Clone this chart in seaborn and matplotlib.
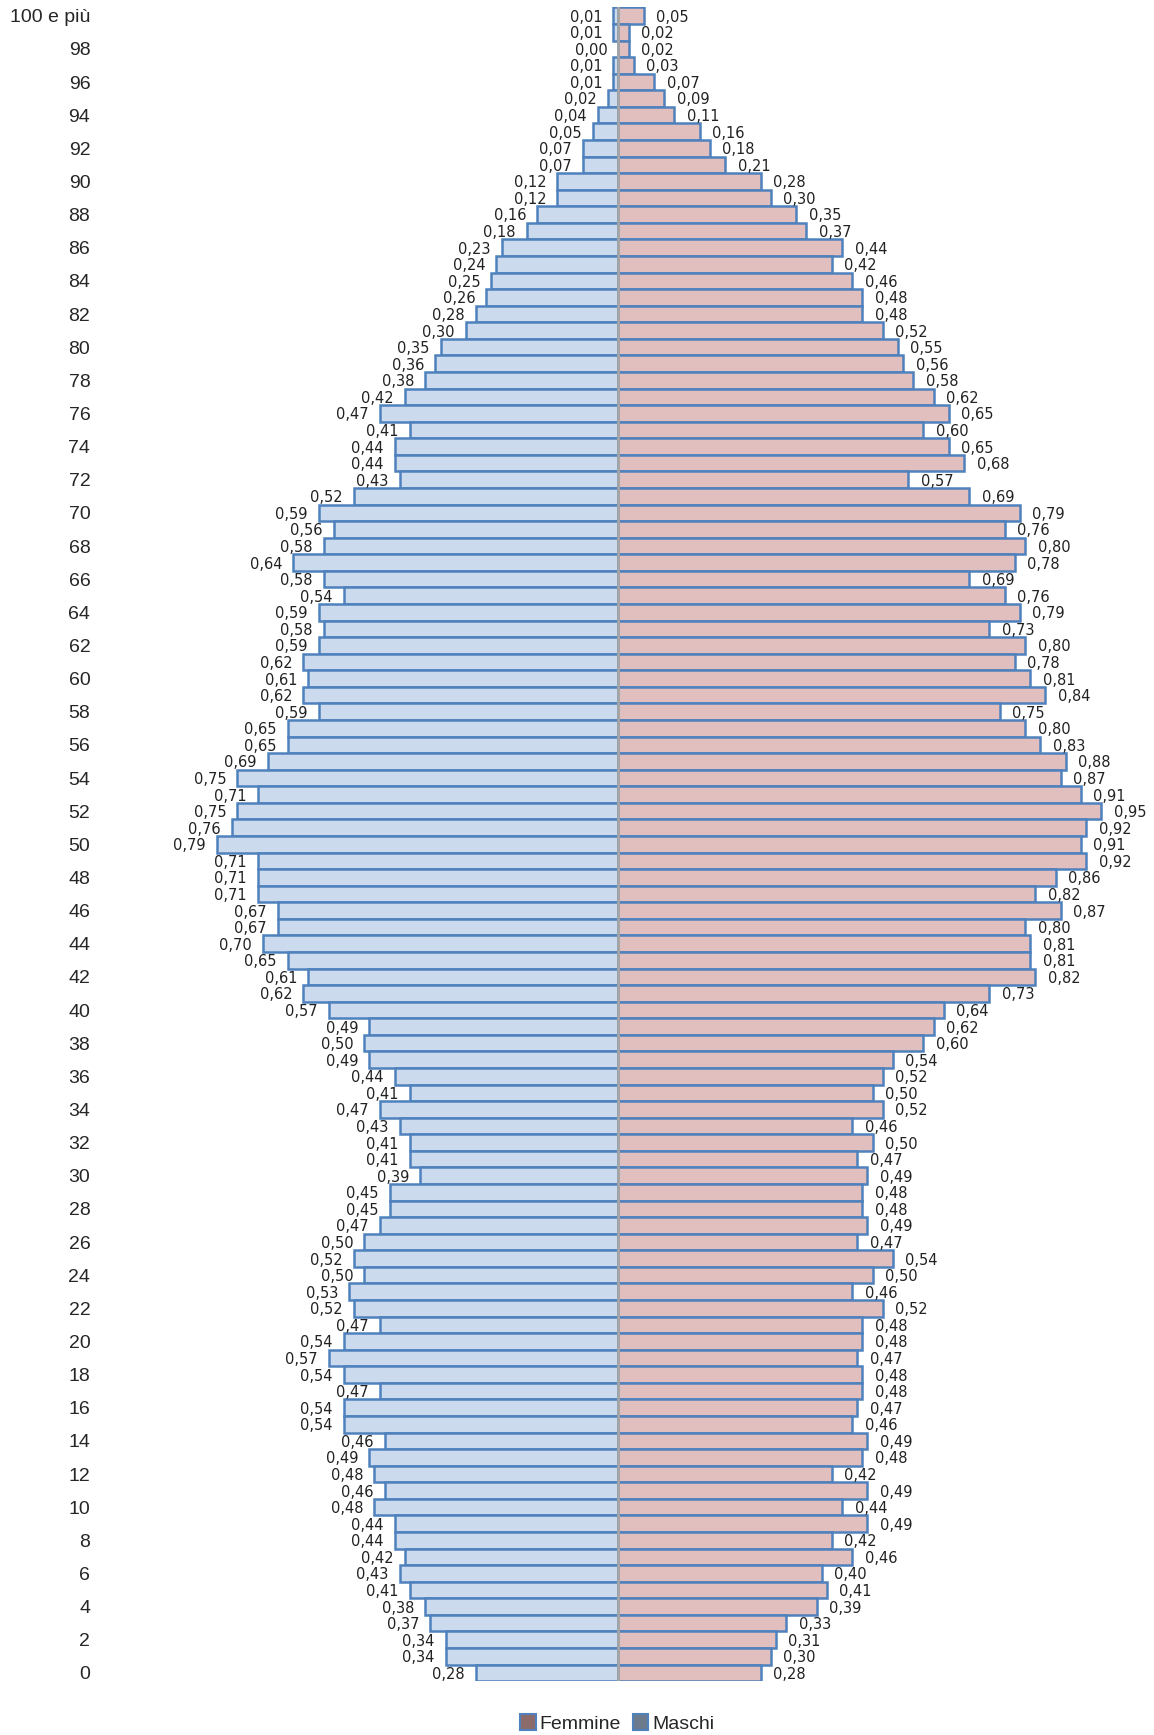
import pandas as pd
import numpy as np
import matplotlib.pyplot as plt
import seaborn as sns
from matplotlib.patches import Patch

# eta' da 100 (e piu') fino a 0, dall'alto in basso
eta = ["100 e più"] + [str(a) for a in range(99, -1, -1)]

maschi = [0.01, 0.01, 0.00, 0.01, 0.01, 0.02, 0.04, 0.05, 0.07, 0.07,
          0.12, 0.12, 0.16, 0.18, 0.23, 0.24, 0.25, 0.26, 0.28, 0.30,
          0.35, 0.36, 0.38, 0.42, 0.47, 0.41, 0.44, 0.44, 0.43, 0.52,
          0.59, 0.56, 0.58, 0.64, 0.58, 0.54, 0.59, 0.58, 0.59, 0.62,
          0.61, 0.62, 0.59, 0.65, 0.65, 0.69, 0.75, 0.71, 0.75, 0.76,
          0.79, 0.71, 0.71, 0.71, 0.67, 0.67, 0.70, 0.65, 0.61, 0.62,
          0.57, 0.49, 0.50, 0.49, 0.44, 0.41, 0.47, 0.43, 0.41, 0.41,
          0.39, 0.45, 0.45, 0.47, 0.50, 0.52, 0.50, 0.53, 0.52, 0.47,
          0.54, 0.57, 0.54, 0.47, 0.54, 0.54, 0.46, 0.49, 0.48, 0.46,
          0.48, 0.44, 0.44, 0.42, 0.43, 0.41, 0.38, 0.37, 0.34, 0.34,
          0.28]

femmine = [0.05, 0.02, 0.02, 0.03, 0.07, 0.09, 0.11, 0.16, 0.18, 0.21,
           0.28, 0.30, 0.35, 0.37, 0.44, 0.42, 0.46, 0.48, 0.48, 0.52,
           0.55, 0.56, 0.58, 0.62, 0.65, 0.60, 0.65, 0.68, 0.57, 0.69,
           0.79, 0.76, 0.80, 0.78, 0.69, 0.76, 0.79, 0.73, 0.80, 0.78,
           0.81, 0.84, 0.75, 0.80, 0.83, 0.88, 0.87, 0.91, 0.95, 0.92,
           0.91, 0.92, 0.86, 0.82, 0.87, 0.80, 0.81, 0.81, 0.82, 0.73,
           0.64, 0.62, 0.60, 0.54, 0.52, 0.50, 0.52, 0.46, 0.50, 0.47,
           0.49, 0.48, 0.48, 0.49, 0.47, 0.54, 0.50, 0.46, 0.52, 0.48,
           0.48, 0.47, 0.48, 0.48, 0.47, 0.46, 0.49, 0.48, 0.42, 0.49,
           0.44, 0.49, 0.42, 0.46, 0.40, 0.41, 0.39, 0.33, 0.31, 0.30,
           0.28]

df = pd.DataFrame({
    "eta": eta * 2,
    "valore": [-v for v in maschi] + femmine,
    "sesso": ["Maschi"] * len(eta) + ["Femmine"] * len(eta),
})

sns.set_style("white")
plt.rcParams["font.family"] = ["Liberation Sans", "DejaVu Sans"]

col_m = "#C6D9F1"
col_f = "#E6B9B8"
bordo = "#4F81BD"

fig = plt.figure(figsize=(11.54, 17.35), dpi=100)
ax = fig.add_axes([0.0867, 0.031, 0.9015, 0.9647])

sns.barplot(data=df, x="valore", y="eta", hue="sesso", order=eta,
            palette={"Maschi": col_m, "Femmine": col_f}, dodge=False,
            width=1.0, errorbar=None, edgecolor=bordo, linewidth=1.8,
            legend=False, ax=ax)

ax.axvline(0, color="#A6A6A6", lw=2, zorder=5)

# etichette dei valori
narrow = ["Liberation Sans Narrow", "DejaVu Sans"]
for i, (m, f) in enumerate(zip(maschi, femmine)):
    ax.annotate(f"{m:.2f}".replace(".", ","), (-m, i), xytext=(-8, -1),
                textcoords="offset points", ha="right", va="center",
                fontsize=10.5, family=narrow, color="#222222")
    ax.annotate(f"{f:.2f}".replace(".", ","), (f, i), xytext=(9, -1),
                textcoords="offset points", ha="left", va="center",
                fontsize=10.5, family=narrow, color="#222222")

ax.set_xlim(-1.02, 1.027)
ax.set_ylim(len(eta) - 0.5, -0.5)
ticks = list(range(0, len(eta), 2))
ax.set_yticks(ticks)
ax.set_yticklabels([eta[t] for t in ticks], fontsize=14)
ax.tick_params(axis="y", length=0, pad=7)
ax.set_xticks([])
ax.set_xlabel("")
ax.set_ylabel("")
sns.despine(ax=ax, left=True, bottom=True)

handles = [Patch(facecolor="#8C6B6B", edgecolor=bordo, linewidth=1.5, label="Femmine"),
           Patch(facecolor="#6B7A8C", edgecolor=bordo, linewidth=1.5, label="Maschi")]
fig.legend(handles=handles, loc="lower center", bbox_to_anchor=(0.535, -0.009),
           ncol=2, frameon=False, fontsize=14, handlelength=0.8, handleheight=0.9,
           handletextpad=0.2, columnspacing=0.6)

fig.savefig("out.png", dpi=100)
